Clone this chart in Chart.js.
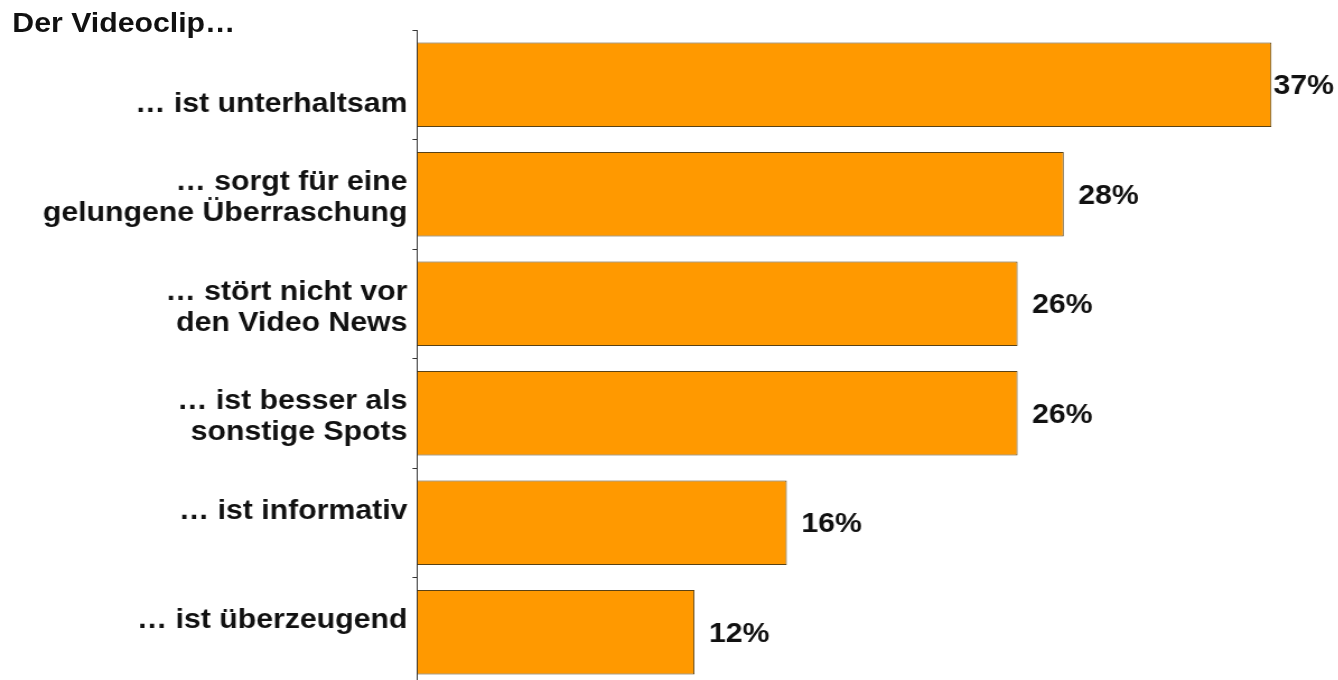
<!DOCTYPE html>
<html lang="de">

<head>
    <meta charset="UTF-8">
    <title>Der Videoclip</title>
    <script src="https://cdn.jsdelivr.net/npm/chart.js"></script>
    <style>
        html, body {
            margin: 0;
            padding: 0;
            background: #fff;
            overflow: hidden;
        }

        /* the whole slide is drawn a bit narrower and stretched sideways */
        .folie {
            position: absolute;
            left: 0;
            top: 0;
            width: 1195px;
            height: 690px;
            transform: scaleX(1.12);
            transform-origin: 0 0;
        }

        .titel {
            position: absolute;
            left: 11px;
            top: 10px;
            font: bold 27px "Liberation Sans", Arial, sans-serif;
            line-height: 27px;
            color: #111;
            z-index: 2;
        }

        .chart-box {
            position: absolute;
            left: 0;
            top: 0;
            width: 1195px;
            height: 690px;
        }
    </style>
</head>

<body>
    <div class="folie">
        <div class="titel">Der Videoclip…</div>
        <div class="chart-box">
            <canvas id="grafikVideoclip"></canvas>
        </div>
    </div>

    <script>
    // Aussagen (leere Zeilen schieben den Text nach oben/unten)
    var aussagen = [
        ['', '… ist unterhaltsam'],
        ['… sorgt für eine', 'gelungene Überraschung'],
        ['… stört nicht vor', 'den Video News'],
        ['… ist besser als', 'sonstige Spots'],
        ['… ist informativ', ''],
        ['… ist überzeugend', '']
    ];
    // Zustimmung in Prozent
    var zustimmung = [37, 28, 26, 26, 16, 12];
    var achseMax = 39.9;

    var schrift = '"Liberation Sans", Arial, sans-serif';

    // Prozentwerte rechts neben die Balken schreiben
    var wertLabels = {
        id: 'wertLabels',
        afterDatasetsDraw: function (chart) {
            var ctx = chart.ctx;
            var meta = chart.getDatasetMeta(0);
            ctx.save();
            ctx.font = 'bold 27px ' + schrift;
            ctx.fillStyle = '#111';
            ctx.textAlign = 'left';
            ctx.textBaseline = 'middle';
            meta.data.forEach(function (bar, i) {
                var text = zustimmung[i] + '%';
                var breite = ctx.measureText(text).width;
                var x = Math.min(bar.x + 13, chart.width - breite - 4);
                ctx.fillText(text, x, bar.y + 2);
            });
            ctx.restore();
        }
    };

    var ctxGrafik = document.getElementById('grafikVideoclip').getContext('2d');
    var grafik = new Chart(ctxGrafik, {
        type: 'bar',
        data: {
            labels: aussagen,
            datasets: [{
                label: 'Zustimmung',
                data: zustimmung,
                backgroundColor: '#ff9900',
                borderColor: '#5a4214',
                borderWidth: 1,
                barPercentage: 0.77,
                categoryPercentage: 1
            }]
        },
        options: {
            indexAxis: 'y',
            responsive: true,
            maintainAspectRatio: false,
            animation: false,
            layout: {
                padding: { top: 30, bottom: 3, left: 0, right: 0 }
            },
            plugins: {
                legend: { display: false },
                tooltip: { enabled: false }
            },
            scales: {
                x: {
                    display: false,
                    min: 0,
                    max: achseMax
                },
                y: {
                    afterFit: function (scale) {
                        // feste Achsenbreite, keine Extra-Luft oben/unten
                        scale.width = 372.8;
                        scale.paddingTop = 0;
                        scale.paddingBottom = 0;
                    },
                    border: { display: true, color: '#333', width: 1 },
                    grid: {
                        display: true,
                        drawOnChartArea: false,
                        drawTicks: true,
                        tickLength: 4.5,
                        color: '#333'
                    },
                    ticks: {
                        color: '#111',
                        padding: 4.5,
                        labelOffset: 4,
                        font: { family: schrift, size: 27, weight: 'bold', lineHeight: 1.15 }
                    }
                }
            }
        },
        plugins: [wertLabels]
    });
    </script>
</body>

</html>
